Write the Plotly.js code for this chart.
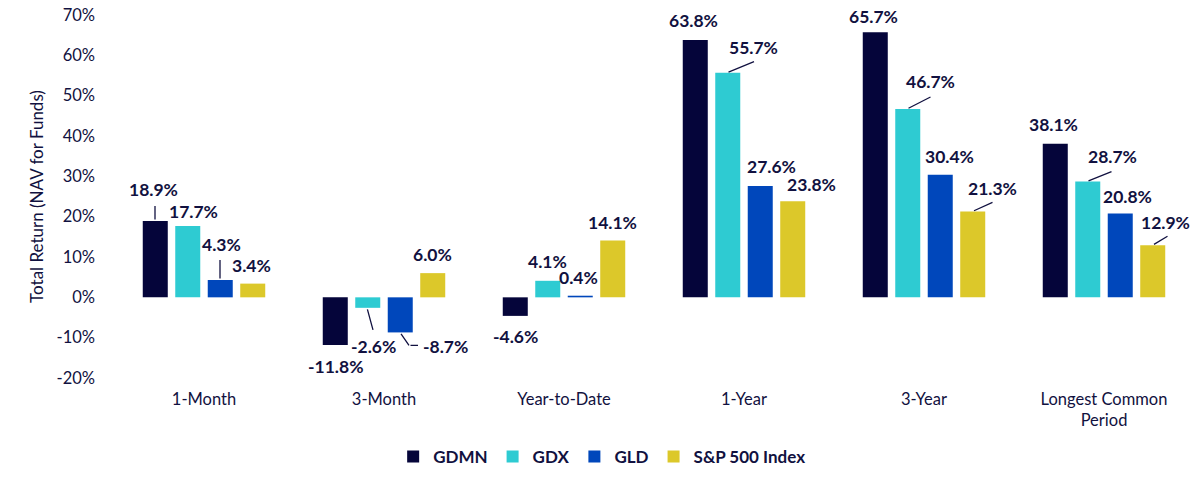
<!DOCTYPE html>
<html>
<head>
<meta charset="utf-8">
<script src="https://cdn.plot.ly/plotly-3.0.1.min.js"></script>
<style>html,body{margin:0;padding:0;background:#fff;}#chart{width:1200px;height:480px;}</style>
</head>
<body>
<div id="chart"></div>
<script>
// ---- data ----
const categories = ['1-Month', '3-Month', 'Year-to-Date', '1-Year', '3-Year', 'Longest Common<br>Period'];
const seriesNames = ['GDMN', 'GDX', 'GLD', 'S&P 500 Index'];
const gdmn = [18.9, -11.8, -4.6, 63.8, 65.7, 38.1];
const gdx  = [17.7, -2.6, 4.1, 55.7, 46.7, 28.7];
const gld  = [4.3, -8.7, 0.4, 27.6, 30.4, 20.8];
const sp500 = [3.4, 6.0, 14.1, 23.8, 21.3, 12.9];
const yTickVals = [-20, -10, 0, 10, 20, 30, 40, 50, 60, 70];

// ---- styles ----
const colors = ['#05053a', '#2ecbd2', '#0047bb', '#dcc82a'];
const textColor = '#111140';
const FONT = 'Lato, "Noto Sans", sans-serif';
// pixel shift of each series' bar centre from category centre
const seriesShift = [-49, -17, 16, 48.5];
// label offsets [dx, dy] in pixels from bar end
const labelOffsets = [
  [[-1.5,-32],[0,22],[0,21],[-1.5,-20],[-1.5,-16],[-1.5,-19]],
  [[6.5,-14],[6.5,38.5],[0,-19],[26.5,-25],[23.5,-27],[25.5,-25]],
  [[1.5,-35],[45.5,14],[-1.5,-18],[11.5,-20],[9.5,-18],[7.5,-17]],
  [[-1,-18],[0,-19],[0,-18],[19,-17],[19.5,-23],[13,-23]]
];
// leader lines: [series, category, [x0,y0,x1,y1] segments] offsets from bar end
const leaders = [
  [0, 0, [[0,0,0,-15]]],
  [2, 0, [[0,0,0,-20]]],
  [1, 1, [[0,0,6,22]]],
  [2, 1, [[0,0,9,13],[9,13,18,13]]],
  [1, 3, [[0,0,27,-11]]],
  [1, 4, [[0,0,23.5,-12]]],
  [3, 4, [[0,0,20,-9]]],
  [1, 5, [[0,0,24.5,-10]]],
  [3, 5, [[0,0,15,-9]]]
];

const allSeries = [gdmn, gdx, gld, sp500];

const traces = allSeries.map((vals, i) => ({
  type: 'bar',
  name: seriesNames[i],
  x: categories,
  y: vals,
  marker: {color: colors[i], line: {width: 0}},
  hoverinfo: 'skip'
}));

const annotations = [];
allSeries.forEach((vals, s) => {
  vals.forEach((v, c) => {
    const off = labelOffsets[s][c];
    annotations.push({
      x: categories[c], y: v, xref: 'x', yref: 'y',
      text: v.toFixed(1) + '%',
      showarrow: false,
      xshift: seriesShift[s] + off[0],
      yshift: -off[1],
      font: {family: FONT, size: 17.5, color: textColor, weight: 'bold'}
    });
  });
});
leaders.forEach(([s, c, segs]) => {
  const v = allSeries[s][c];
  segs.forEach(([x0, y0, x1, y1]) => {
    annotations.push({
      x: categories[c], y: v, xref: 'x', yref: 'y',
      text: '',
      showarrow: true, arrowhead: 0, arrowwidth: 1.3, arrowcolor: textColor,
      standoff: 0, startstandoff: 0,
      axref: 'pixel', ayref: 'pixel',
      ax: x0 - x1, ay: y0 - y1,
      xshift: seriesShift[s] + x1,
      yshift: -y1
    });
  });
});

const layout = {
  width: 1200, height: 480,
  margin: {l: 114, r: 6, t: 15, b: 101},
  paper_bgcolor: '#ffffff', plot_bgcolor: '#ffffff',
  font: {family: FONT, color: textColor, size: 16},
  barmode: 'group',
  bargap: 0.278,
  bargroupgap: 0.23,
  showlegend: true,
  legend: {
    orientation: 'h', x: 0.452, xanchor: 'center', y: -0.214, yanchor: 'middle',
    font: {family: FONT, size: 17, color: textColor, weight: 'bold'},
    itemclick: false, itemdoubleclick: false, tracegroupgap: 0, itemwidth: 30
  },
  xaxis: {
    type: 'category',
    showgrid: false, zeroline: false, showline: false,
    ticks: '', ticklabelstandoff: 9,
    tickfont: {family: FONT, size: 16.5, color: textColor}
  },
  yaxis: {
    range: [-20, 70],
    tickvals: yTickVals,
    ticktext: yTickVals.map(v => v + '%'),
    showgrid: false, zeroline: false, showline: false,
    ticks: '', ticklabelstandoff: 18,
    tickfont: {family: FONT, size: 16.5, color: textColor},
    title: {text: 'Total Return (NAV for Funds)', font: {family: FONT, size: 17, color: textColor}, standoff: 8}
  },
  annotations: annotations
};

Plotly.newPlot('chart', traces, layout, {displayModeBar: false, staticPlot: true});
</script>
</body>
</html>
